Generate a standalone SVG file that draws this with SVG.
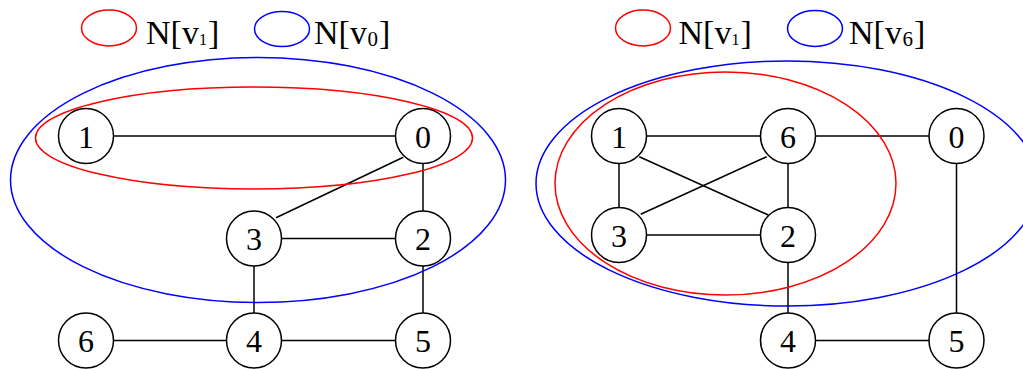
<svg xmlns="http://www.w3.org/2000/svg" width="1023" height="369" viewBox="0 0 1023 369">
<style>
.node circle{fill:#fff;stroke:#000;stroke-width:1.5}
.node text{font-family:"Liberation Serif","Times New Roman",serif;font-size:32px;text-anchor:middle;fill:#000}
.edges line{stroke:#000;stroke-width:1.5}
.set{fill:none;stroke-width:1.5}
.red{stroke:#f00}
.blue{stroke:#00f}
.lg{font-family:"Liberation Serif","Times New Roman",serif;font-size:34px;fill:#000}
.sub{font-size:16px}
.sub2{font-size:21px}
</style>
<rect width="1023" height="369" fill="#fff"/>
<g id="legend">
<ellipse class="set red" cx="109" cy="28" rx="27.5" ry="18"/>
<text class="lg" x="146" y="43.5">N[v</text><text class="lg sub" x="199" y="45">1</text><text class="lg" x="208" y="43.5">]</text>
<ellipse class="set blue" cx="282" cy="29" rx="27.5" ry="17.5"/>
<text class="lg" x="314" y="43.5">N[v</text><text class="lg sub2" x="367.5" y="45.5">0</text><text class="lg" x="379" y="43.5">]</text>
<ellipse class="set red" cx="643" cy="28" rx="27.5" ry="18"/>
<text class="lg" x="678.5" y="43.5">N[v</text><text class="lg sub" x="731.5" y="45">1</text><text class="lg" x="740.5" y="43.5">]</text>
<ellipse class="set blue" cx="815" cy="28.5" rx="27.5" ry="18"/>
<text class="lg" x="849" y="43.5">N[v</text><text class="lg sub2" x="902.5" y="45.5">6</text><text class="lg" x="914" y="43.5">]</text>
</g>
<g class="edges" id="connectors">
<line x1="86" y1="136" x2="423" y2="136"/>
<line x1="403.3" y1="157.3" x2="276" y2="217.7"/>
<line x1="423" y1="136" x2="423" y2="238.5"/>
<line x1="254" y1="238.5" x2="423" y2="238.5"/>
<line x1="254" y1="238.5" x2="254" y2="340.5"/>
<line x1="423" y1="238.5" x2="423" y2="340.5"/>
<line x1="86" y1="340.5" x2="254" y2="340.5"/>
<line x1="254" y1="340.5" x2="423" y2="340.5"/>
<line x1="619" y1="136" x2="788" y2="136"/>
<line x1="788" y1="136" x2="956.5" y2="136"/>
<line x1="619" y1="136" x2="619" y2="235"/>
<line x1="639.3" y1="156.7" x2="768.3" y2="215"/>
<line x1="766.7" y1="156.7" x2="640.7" y2="214.3"/>
<line x1="788" y1="136" x2="788" y2="235"/>
<line x1="619" y1="235" x2="788" y2="235"/>
<line x1="788" y1="235" x2="788" y2="340.5"/>
<line x1="956.5" y1="136" x2="956.5" y2="340.5"/>
<line x1="788" y1="340.5" x2="956.5" y2="340.5"/>
</g>
<g id="L1" class="node"><circle cx="86" cy="136" r="27.5"/><text x="86" y="147.5">1</text></g>
<g id="L0" class="node"><circle cx="423" cy="136" r="27.5"/><text x="423" y="147.5">0</text></g>
<g id="L3" class="node"><circle cx="254" cy="238.5" r="27.5"/><text x="254" y="250">3</text></g>
<g id="L2" class="node"><circle cx="423" cy="238.5" r="27.5"/><text x="423" y="250">2</text></g>
<g id="L6" class="node"><circle cx="86" cy="340.5" r="27.5"/><text x="86" y="352">6</text></g>
<g id="L4" class="node"><circle cx="254" cy="340.5" r="27.5"/><text x="254" y="352">4</text></g>
<g id="L5" class="node"><circle cx="423" cy="340.5" r="27.5"/><text x="423" y="352">5</text></g>
<g id="R1" class="node"><circle cx="619" cy="136" r="27.5"/><text x="619" y="147.5">1</text></g>
<g id="R6" class="node"><circle cx="788" cy="136" r="27.5"/><text x="788" y="147.5">6</text></g>
<g id="R0" class="node"><circle cx="956.5" cy="136" r="27.5"/><text x="956.5" y="147.5">0</text></g>
<g id="R3" class="node"><circle cx="619" cy="235" r="27.5"/><text x="619" y="246.5">3</text></g>
<g id="R2" class="node"><circle cx="788" cy="235" r="27.5"/><text x="788" y="246.5">2</text></g>
<g id="R4" class="node"><circle cx="788" cy="340.5" r="27.5"/><text x="788" y="352">4</text></g>
<g id="R5" class="node"><circle cx="956.5" cy="340.5" r="27.5"/><text x="956.5" y="352">5</text></g>
<g id="sets">
<ellipse class="set blue" cx="258" cy="180" rx="247.5" ry="122.5"/>
<ellipse class="set red" cx="254" cy="138" rx="218.5" ry="51"/>
<ellipse class="set blue" cx="787" cy="183.5" rx="251" ry="122.5"/>
<ellipse class="set red" cx="725.5" cy="183.5" rx="170.5" ry="111.5"/>
</g>
</svg>
